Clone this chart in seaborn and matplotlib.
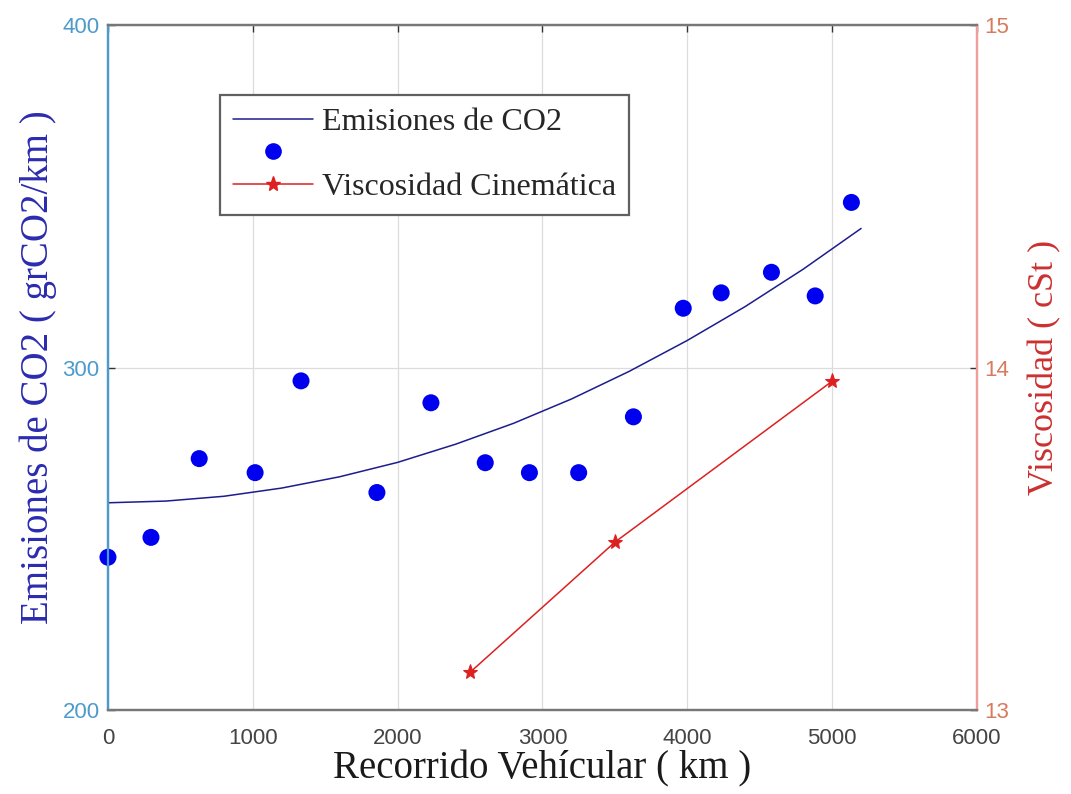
import matplotlib
matplotlib.use("Agg")
import matplotlib.pyplot as plt
from matplotlib.lines import Line2D
import numpy as np
import pandas as pd
import seaborn as sns

# Measured CO2 emissions along the vehicle's run
recorrido_km = [0, 297, 630, 1016, 1333, 1857, 2230, 2605, 2910, 3250,
                3628, 3972, 4234, 4581, 4883, 5133]
emisiones_co2 = [244.6, 250.4, 273.4, 269.3, 296.1, 263.5, 289.7, 272.2,
                 269.3, 269.3, 285.6, 317.3, 321.8, 327.8, 320.9, 348.2]

# Trend curve for the emissions
tendencia_km = [0, 400, 800, 1200, 1600, 2000, 2400, 2800, 3200, 3600,
                4000, 4400, 4800, 5200]
tendencia_co2 = [260.5, 261.0, 262.4, 264.8, 268.1, 272.3, 277.6, 283.7,
                 290.8, 298.9, 307.9, 317.8, 328.7, 340.6]

# Kinematic viscosity of the oil
viscosidad_km = [2500, 3500, 5000]
viscosidad_cst = [13.11, 13.49, 13.96]

x_ticks = [0, 1000, 2000, 3000, 4000, 5000, 6000]
y_left_ticks = [200, 300, 400]
y_right_ticks = [13, 14, 15]

sns.set_style("white")
plt.rcParams["font.family"] = ["Liberation Sans", "DejaVu Sans"]

SERIF = ["Liberation Serif", "DejaVu Serif"]
LEFT_AX = "#4d9bcb"
LEFT_LABEL = "#2b2bb0"
RIGHT_AX = "#ef9f9a"
RIGHT_TICK = "#d77a5e"
RIGHT_LABEL = "#cc3030"
FIT_COLOR = "#1c1c8e"
DOT_COLOR = "#0000f0"
VISC_COLOR = "#dd2020"

fig = plt.figure(figsize=(10.71, 7.94), dpi=100)
ax = fig.add_axes([0.1008, 0.1058, 0.8114, 0.8627])
ax2 = ax.twinx()

df_fit = pd.DataFrame({"km": tendencia_km, "co2": tendencia_co2})
df_pts = pd.DataFrame({"km": recorrido_km, "co2": emisiones_co2})
df_vis = pd.DataFrame({"km": viscosidad_km, "cst": viscosidad_cst})

sns.lineplot(data=df_fit, x="km", y="co2", ax=ax, color=FIT_COLOR,
             linewidth=1.1, sort=True, zorder=3)
sns.scatterplot(data=df_pts, x="km", y="co2", ax=ax, color=DOT_COLOR,
                s=150, edgecolor="none", zorder=4, clip_on=False)
sns.lineplot(data=df_vis, x="km", y="cst", ax=ax2, color=VISC_COLOR,
             linewidth=1.1, marker="*", markersize=11,
             markeredgecolor=VISC_COLOR, zorder=3)

ax.set_xlim(0, 6000)
ax.set_ylim(200, 400)
ax2.set_ylim(13, 15)
ax.set_xticks(x_ticks)
ax.set_yticks(y_left_ticks)
ax2.set_yticks(y_right_ticks)

ax.grid(True, color="#dcdcdc", linewidth=0.9)
ax2.grid(False)
ax.set_axisbelow(True)

ax.tick_params(axis="x", direction="in", length=5, width=1, colors="#333333",
               labelsize=16, top=True, pad=13, labelcolor="#444444")
ax.tick_params(axis="y", direction="in", length=5, width=1, colors="#333333",
               labelsize=16, labelcolor=LEFT_AX, left=True, pad=6)
ax2.tick_params(axis="y", direction="in", length=5, width=1, colors="#333333",
                labelsize=16, labelcolor=RIGHT_TICK, right=True, pad=5)

for a in (ax, ax2):
    for side in ("top", "bottom"):
        a.spines[side].set_color("#777777")
        a.spines[side].set_linewidth(1.6)
    a.spines["left"].set_color(LEFT_AX)
    a.spines["left"].set_linewidth(1.6)
    a.spines["right"].set_color(RIGHT_AX)
    a.spines["right"].set_linewidth(1.6)

ax.set_xlabel("Recorrido Vehícular ( km )", family=SERIF, fontsize=28,
              color="#1a1a1a", labelpad=1)
ax.set_ylabel("Emisiones de CO2 ( grCO2/km )", family=SERIF, fontsize=28,
              color=LEFT_LABEL, labelpad=4)
ax2.set_ylabel("Viscosidad ( cSt )", family=SERIF, fontsize=26,
               color=RIGHT_LABEL, labelpad=14)

handles = [
    Line2D([], [], color=FIT_COLOR, linewidth=1.1),
    Line2D([], [], color=DOT_COLOR, marker="o", linestyle="none",
           markersize=12, markeredgecolor="none"),
    Line2D([], [], color=VISC_COLOR, linewidth=1.1, marker="*",
           markersize=11),
]
labels = ["Emisiones de CO2", "", "Viscosidad Cinemática"]
leg = ax2.legend(handles, labels, loc="upper left",
                 bbox_to_anchor=(0.129, 0.898), borderaxespad=0,
                 prop={"family": SERIF, "size": 23}, frameon=True,
                 fancybox=False, framealpha=1, edgecolor="#606060",
                 handlelength=2.5, handletextpad=0.3, labelspacing=0.1,
                 borderpad=0.4)
leg.get_frame().set_linewidth(1.6)

fig.savefig("out.png", dpi=100)
